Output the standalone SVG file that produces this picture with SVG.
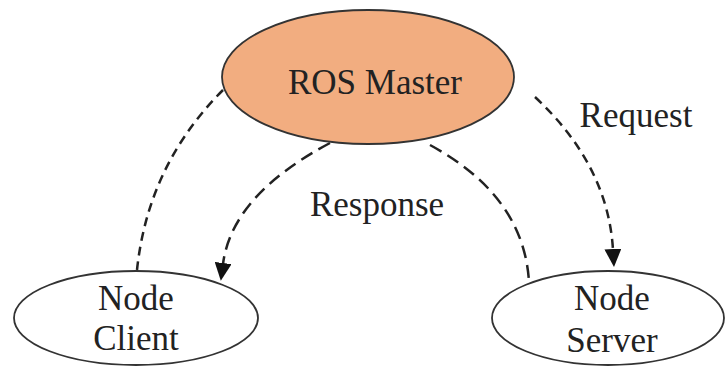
<svg xmlns="http://www.w3.org/2000/svg" width="725" height="367" viewBox="0 0 725 367">
<style>
.node{stroke:#333;stroke-width:1.8}
.lbl{font-family:"Liberation Serif","Times New Roman",serif;font-size:35px;fill:#222;text-anchor:middle}
.edge{fill:none;stroke:#222;stroke-width:2.5;stroke-dasharray:9 6}
.long{stroke-dasharray:13 7}
</style>
<defs>
<marker id="arr" markerUnits="userSpaceOnUse" markerWidth="18" markerHeight="17" refX="1" refY="8.5" orient="auto" viewBox="0 0 18 17">
<path d="M0,0 L18,8.5 L0,17 Z" fill="#111"/>
</marker>
</defs>
<rect width="725" height="367" fill="#fff"/>
<g id="connectors">
<path class="edge" d="M223,90 Q148,165 137,270"/>
<path class="edge long" d="M330,143 Q232,195 223,264" marker-end="url(#arr)"/>
<path class="edge" d="M535,97 Q608,165 613,250" marker-end="url(#arr)"/>
<path class="edge long" d="M430,145 Q524,196 529,282"/>
</g>
<g id="master">
<ellipse class="node" cx="368" cy="77" rx="146" ry="67" fill="#F2AD80"/>
<text class="lbl" x="375" y="94">ROS Master</text>
</g>
<g id="client">
<ellipse class="node" cx="136" cy="318" rx="122" ry="47" fill="#fff"/>
<text class="lbl" x="136" y="310">Node</text>
<text class="lbl" x="136" y="350">Client</text>
</g>
<g id="server">
<ellipse class="node" cx="608" cy="318" rx="116" ry="47" fill="#fff"/>
<text class="lbl" x="612" y="310">Node</text>
<text class="lbl" x="612" y="352">Server</text>
</g>
<g id="labels">
<text class="lbl" x="636" y="127">Request</text>
<text class="lbl" x="377" y="216">Response</text>
</g>
</svg>
